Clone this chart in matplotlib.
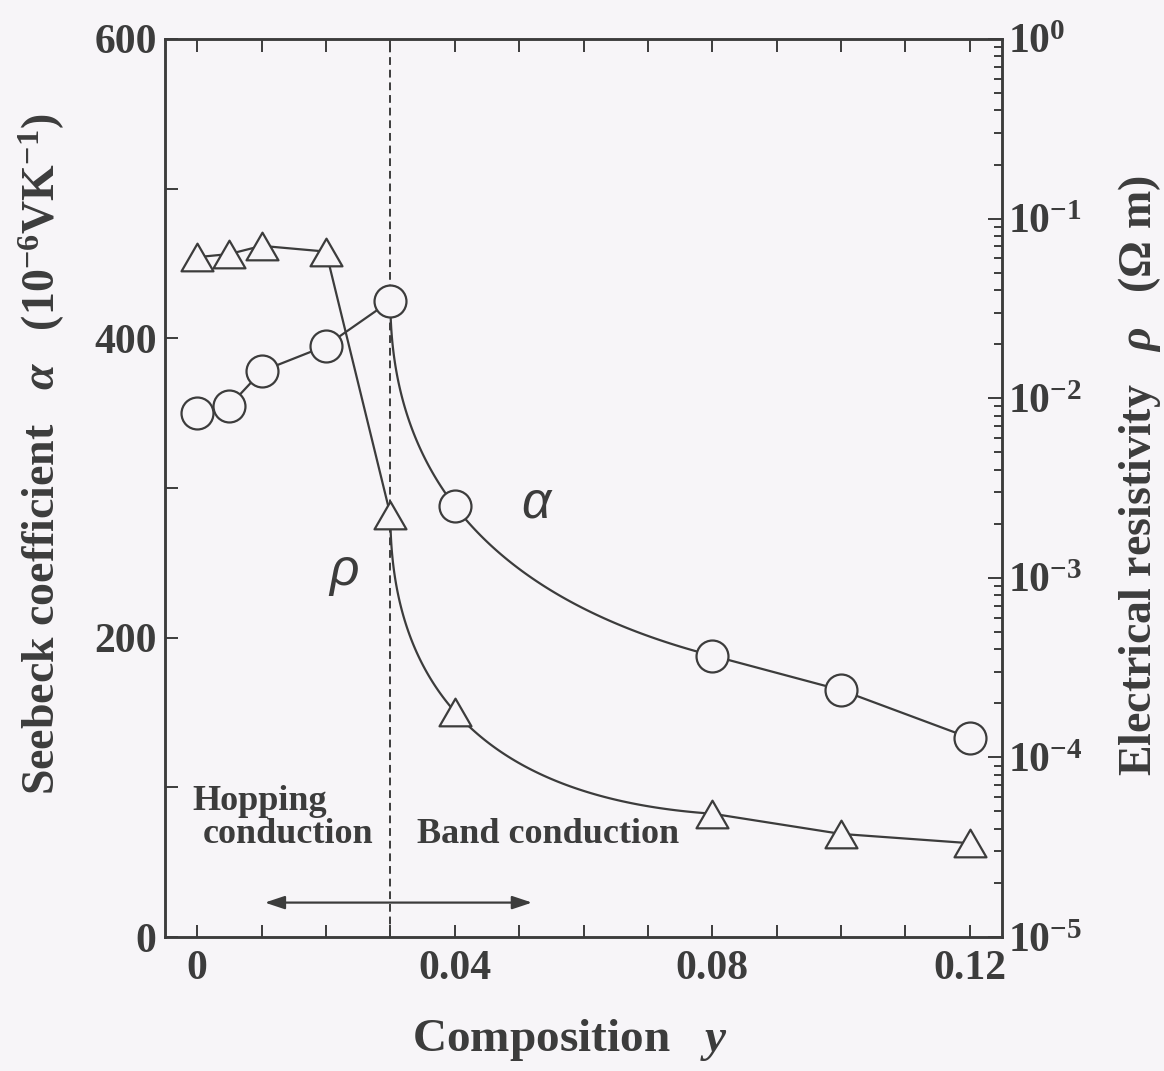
import numpy as np
import matplotlib
matplotlib.use("Agg")
import matplotlib.pyplot as plt
from matplotlib.ticker import MultipleLocator, FixedLocator, FuncFormatter, LogLocator, NullFormatter
from matplotlib.path import Path

# composition y and the two measured quantities
comp_y = np.array([0.0, 0.005, 0.01, 0.02, 0.03, 0.04, 0.08, 0.10, 0.12])
seebeck = np.array([350, 355, 378, 395, 425, 288, 188, 165, 133])          # 1e-6 V/K
resistivity = np.array([6.1e-2, 6.35e-2, 7.05e-2, 6.55e-2, 2.24e-3,
                        1.80e-4, 4.86e-5, 3.75e-5, 3.33e-5])               # Ohm m

x_ticks = [0, 0.04, 0.08, 0.12]
x_ticklabels = ["0", "0.04", "0.08", "0.12"]
a_ticks = [0, 200, 400, 600]
rho_decades = [-5, -4, -3, -2, -1, 0]

BG = "#f7f5f8"
INK = "#3c3c3c"

plt.rcParams["font.family"] = ["Liberation Serif", "DejaVu Serif"]
plt.rcParams["font.weight"] = "bold"
plt.rcParams["axes.labelweight"] = "bold"
plt.rcParams["mathtext.fontset"] = "custom"
plt.rcParams["mathtext.rm"] = "Liberation Serif:bold"
plt.rcParams["mathtext.bf"] = "Liberation Serif:bold"
plt.rcParams["mathtext.it"] = "Liberation Serif:italic:bold"


def guide(xs, ys, i0, i1, n=120):
    """straight segments, except a smooth bend from point i0 to i1
    drawn in sqrt(x - x0) so it leaves the knee vertically"""
    s = np.sqrt(xs[i0:i1 + 1] - xs[i0])
    c = np.polyfit(s, ys[i0:i1 + 1], 2)
    ss = np.linspace(0, s[-1], n)
    gx = np.concatenate([xs[:i0], xs[i0] + ss ** 2, xs[i1 + 1:]])
    gy = np.concatenate([ys[:i0], np.polyval(c, ss), ys[i1 + 1:]])
    return gx, gy


# equilateral triangle marker, centred on its bounding box
tri = Path([(0, 0.433), (-0.5, -0.433), (0.5, -0.433), (0, 0.433)],
           [Path.MOVETO, Path.LINETO, Path.LINETO, Path.CLOSEPOLY])

fig = plt.figure(figsize=(11.64, 10.71), dpi=100, facecolor=BG)
ax = fig.add_axes([0.1418, 0.1251, 0.7190, 0.8385])
ax.set_facecolor(BG)
ax2 = ax.twinx()

ax.set_xlim(-0.005, 0.125)
ax.set_ylim(0, 600)
ax2.set_yscale("log")
ax2.set_ylim(1e-5, 1)

# Seebeck coefficient
gx, gy = guide(comp_y, seebeck, 4, 6)
ax.plot(gx, gy, color=INK, lw=1.6, zorder=2)
ax.plot(comp_y, seebeck, ls="none", marker="o", ms=23, mfc=BG, mec=INK, mew=1.6, zorder=3)

# resistivity, bent in log space
gx, gl = guide(comp_y, np.log10(resistivity), 4, 6)
ax2.plot(gx, 10 ** gl, color=INK, lw=1.6, zorder=2)
ax2.plot(comp_y, resistivity, ls="none", marker=tri, ms=23, mfc=BG, mec=INK, mew=1.6, zorder=3)

# hopping / band boundary
ax.axvline(0.03, color=INK, lw=1.4, ls=(0, (4, 2.5)), zorder=1)
ax.annotate("", xy=(0.0105, 23), xytext=(0.052, 23),
            arrowprops=dict(arrowstyle="<|-|>,head_length=0.6,head_width=0.2",
                            mutation_scale=20, lw=1.6, color=INK,
                            shrinkA=0, shrinkB=0))

ax.text(-0.0008, 85, "Hopping", fontsize=26, color=INK, ha="left", va="baseline")
ax.text(0.0009, 63, "conduction", fontsize=26, color=INK, ha="left", va="baseline")
ax.text(0.0342, 63, "Band conduction", fontsize=26, color=INK, ha="left", va="baseline")

ax.text(0.0526, 289, "α", fontsize=37, family="Liberation Sans", style="italic",
        weight="normal", color=INK, ha="center", va="center")
ax.text(0.0228, 244, "ρ", fontsize=37, family="Liberation Sans", style="italic",
        weight="normal", color=INK, ha="center", va="center")

# axes, ticks
for a in (ax, ax2):
    for sp in a.spines.values():
        sp.set_linewidth(1.8)
        sp.set_color(INK)

ax.xaxis.set_major_locator(FixedLocator(x_ticks))
ax.set_xticklabels(x_ticklabels)
ax.xaxis.set_minor_locator(MultipleLocator(0.01))
ax.yaxis.set_major_locator(FixedLocator(a_ticks))
ax.yaxis.set_minor_locator(MultipleLocator(100))
ax.tick_params(axis="both", which="both", direction="in", top=True, right=False,
               width=1.4, color=INK, labelcolor=INK, labelsize=30)
ax.tick_params(axis="both", which="major", length=9)
ax.tick_params(axis="both", which="minor", length=9)
ax.tick_params(axis="x", pad=9)
ax.tick_params(axis="y", pad=6)

ax2.yaxis.set_major_locator(FixedLocator([10.0 ** d for d in rho_decades]))
ax2.yaxis.set_major_formatter(FuncFormatter(lambda v, p: r"$\mathbf{10^{%d}}$" % round(np.log10(v))))
ax2.yaxis.set_minor_locator(LogLocator(base=10, subs=np.arange(2, 10), numticks=20))
ax2.yaxis.set_minor_formatter(NullFormatter())
ax2.tick_params(axis="y", which="both", direction="in", left=False, right=True,
                width=1.4, color=INK, labelcolor=INK, labelsize=30, pad=4)
ax2.tick_params(axis="y", which="major", length=10)
ax2.tick_params(axis="y", which="minor", length=6)

ax.set_xlabel(r"Composition   $y$", fontsize=34, color=INK, va="center")
ax.xaxis.set_label_coords(0.4836, -0.1147)
ax.set_ylabel(r"Seebeck coefficient   $\alpha$   $\mathbf{(10^{-6}VK^{-1})}$",
              fontsize=33, color=INK, va="center")
ax.yaxis.set_label_coords(-0.147, 0.538)
ax2.set_ylabel(r"Electrical resistivity   $\rho$   $\mathbf{(\Omega\ m)}$",
               fontsize=33, color=INK, va="center", rotation=90)
ax2.yaxis.set_label_coords(1.164, 0.514)

fig.savefig("out.png", dpi=100, facecolor=BG)
